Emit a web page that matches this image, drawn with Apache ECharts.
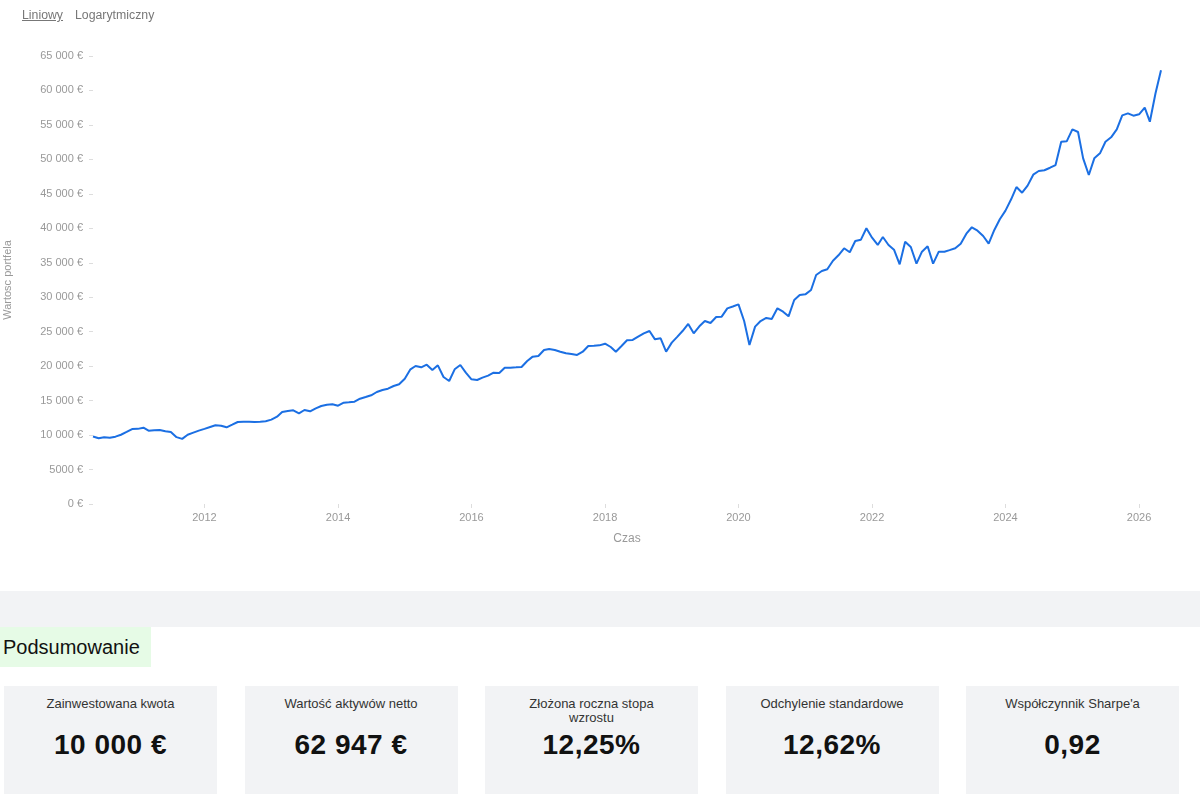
<!DOCTYPE html>
<html lang="pl">
<head>
<meta charset="utf-8">
<title>Wartość portfela</title>
<script src="https://cdn.jsdelivr.net/npm/echarts@6/dist/echarts.min.js"></script>
<style>
  body { margin: 0; background: #fff; font-family: "Liberation Sans", Arial, sans-serif; }
  .chart-wrap { position: relative; width: 1200px; height: 591px; }
  #chart { width: 1200px; height: 591px; }
  .scale-switch { position: absolute; left: 22px; top: 8px; font-size: 12.3px; color: #777; }
  .scale-switch span { margin-right: 12px; }
  .scale-switch .active { text-decoration: underline; }
  .band { height: 36px; background: #f2f3f5; }
  .head { width: 148px; height: 40px; line-height: 40px; padding-left: 3px; background: #e6fbe6; font-size: 20px; color: #111; }
  .cards { display: flex; gap: 27.5px; margin: 19px 0 0 4px; }
  .card { width: 213px; height: 120px; background: #f2f3f5; text-align: center; flex: none; }
  .card .t { padding-top: 11px; height: 28px; font-size: 13px; line-height: 14px; color: #333; }
  .card .v { margin-top: 4px; font-size: 28px; line-height: 32px; font-weight: bold; color: #111; letter-spacing: 0.5px; }
</style>
</head>
<body>
<div class="chart-wrap">
  <div id="chart"></div>
  <div class="scale-switch"><span class="active">Liniowy</span><span>Logarytmiczny</span></div>
</div>
<div class="band"></div>
<div class="head">Podsumowanie</div>
<div class="cards" id="cards"></div>

<script>
// miesięczne wartości portfela od maja 2010 do maja 2026
const startYear = 2010;
const startMonth = 5;
const portfolioValues = [
  9800, 9550, 9680, 9600, 9770, 10050, 10450, 10880, 10900, 11070,
  10640, 10700, 10750, 10550, 10450, 9700, 9450, 10050, 10350, 10640,
  10900, 11170, 11420, 11360, 11130, 11510, 11900, 11940, 11940, 11900,
  11940, 12000, 12240, 12670, 13350, 13490, 13600, 13160, 13640,
  13450, 13880, 14220, 14410, 14460, 14260, 14700, 14750, 14840, 15280,
  15520, 15770, 16250, 16540, 16730, 17120, 17370, 18180, 19540, 20020,
  19830, 20210, 19440, 20120, 18430, 17850, 19540, 20170, 19050, 18090,
  17990, 18330, 18620, 19050, 19010, 19780, 19780, 19830,
  19880, 20750, 21380, 21470, 22340, 22490, 22340, 22100, 21860, 21760,
  21620, 22100, 22920, 22970, 23020, 23260, 22780, 22100, 22920, 23750,
  23800, 24280, 24760, 25100, 23890, 24040, 22100, 23410, 24280, 25100,
  26120, 24760, 25780, 26550, 26260, 27130, 27180, 28390, 28650,
  28970, 26550, 23070, 25730, 26550, 26990, 26840, 28390, 27900, 27230,
  29600, 30320, 30420, 31050, 33230, 33800, 34050, 35300, 36080, 37100,
  36520, 38160, 38350, 40000, 38640, 37580, 38740, 37580, 36900, 34780,
  38060, 37290, 34870, 36610, 37390, 34870, 36610, 36610, 36830,
  37100, 37770, 39220, 40150, 39660, 38880, 37770, 39760, 41310, 42560,
  44210, 45990, 45170, 46190, 47780, 48310, 48420, 48790, 49180, 52560,
  52620, 54360, 53970, 50150, 47730, 50150, 50880, 52560, 53200, 54360,
  56390, 56680, 56340, 56540, 57500, 55470, 59590, 62947
];

const yTicks = { min: 0, max: 65000, step: 5000 };

const summaryTitles = ['Zainwestowana kwota', 'Wartość aktywów netto', 'Złożona roczna stopa<br>wzrostu', 'Odchylenie standardowe', 'Współczynnik Sharpe\'a'];
const summaryValues = ['10 000 €', '62 947 €', '12,25%', '12,62%', '0,92'];

// karty podsumowania
const cardsEl = document.getElementById('cards');
summaryTitles.forEach((t, i) => {
  const card = document.createElement('div');
  card.className = 'card';
  card.innerHTML = `<div class="t">${t}</div><div class="v">${summaryValues[i]}</div>`;
  cardsEl.appendChild(card);
});

function formatEuro(v) {
  let s = String(v);
  if (v >= 10000) {
    s = s.replace(/\B(?=(\d{3})+(?!\d))/g, ' ');
  }
  return s + ' €';
}

const seriesData = portfolioValues.map((v, i) => {
  const d = new Date(startYear, startMonth - 1 + i, 1);
  return [d.getTime(), v];
});

const chart = echarts.init(document.getElementById('chart'));
chart.setOption({
  animation: false,
  grid: { left: 93, right: 39, top: 56, height: 448, outerBoundsMode: 'none', containLabel: false },
  xAxis: {
    type: 'time',
    min: seriesData[0][0],
    max: seriesData[seriesData.length - 1][0],
    splitNumber: 8,
    name: 'Czas',
    nameLocation: 'middle',
    nameGap: 29,
    nameTextStyle: { color: '#999', fontSize: 12 },
    axisLine: { show: false },
    axisTick: { show: true, length: 4, lineStyle: { color: '#ddd' } },
    axisLabel: {
      color: '#999',
      fontSize: 11,
      margin: 8,
      formatter: '{yyyy}',
      showMinLabel: false,
      showMaxLabel: false
    },
    splitLine: { show: false },
    minorTick: { show: false }
  },
  yAxis: {
    type: 'value',
    min: yTicks.min,
    max: yTicks.max,
    interval: yTicks.step,
    name: 'Wartosc portfela',
    nameLocation: 'middle',
    nameGap: 80,
    nameTextStyle: { color: '#999', fontSize: 11 },
    axisLine: { show: false },
    axisTick: { show: true, length: 4, lineStyle: { color: '#ddd' } },
    axisLabel: { color: '#999', fontSize: 11, margin: 10, formatter: formatEuro },
    splitLine: { show: false }
  },
  series: [{
    type: 'line',
    data: seriesData,
    showSymbol: false,
    lineStyle: { color: '#1b6fe3', width: 2 },
    itemStyle: { color: '#1b6fe3' }
  }]
});
</script>
</body>
</html>
